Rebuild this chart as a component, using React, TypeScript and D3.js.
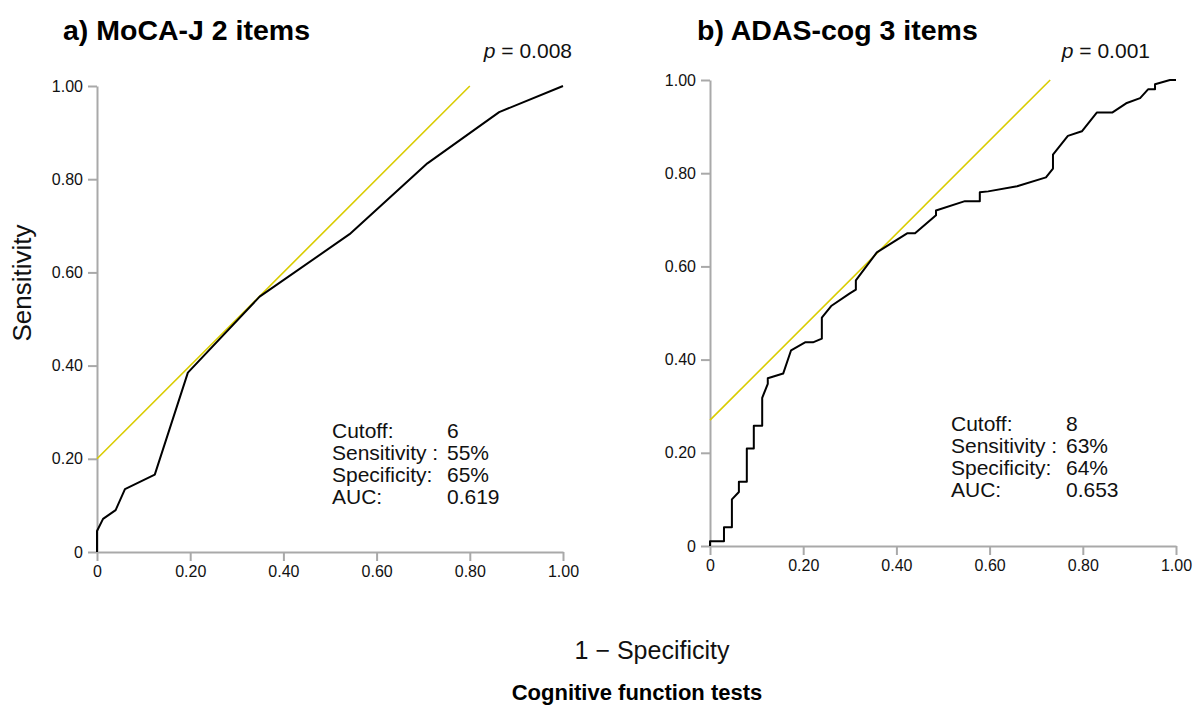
import React, { useEffect, useRef } from 'react';
import * as d3 from 'd3';

// ROC curve a) MoCA-J 2 items
const mocaFpr = [0, 0, 0.013, 0.04, 0.06, 0.124, 0.195, 0.349, 0.542, 0.709, 0.863, 1.0];
const mocaTpr = [0, 0.045, 0.071, 0.09, 0.135, 0.166, 0.385, 0.548, 0.682, 0.834, 0.944, 1.0];

// ROC curve b) ADAS-cog 3 items
const adasFpr = [0, 0, 0.03, 0.03, 0.047, 0.047, 0.062, 0.062, 0.079, 0.079, 0.094, 0.094, 0.112, 0.112, 0.124, 0.124,
  0.157, 0.174, 0.204, 0.221, 0.24, 0.24, 0.26, 0.30, 0.313, 0.313, 0.358, 0.423, 0.44, 0.485, 0.485, 0.547, 0.579, 0.579,
  0.597, 0.659, 0.721, 0.736, 0.736, 0.768, 0.798, 0.830, 0.863, 0.893, 0.923, 0.94, 0.955, 0.955, 0.987, 1.0];
const adasTpr = [0, 0.01, 0.01, 0.04, 0.04, 0.10, 0.116, 0.138, 0.138, 0.209, 0.209, 0.258, 0.258, 0.318, 0.348, 0.36,
  0.37, 0.42, 0.437, 0.437, 0.445, 0.49, 0.515, 0.542, 0.55, 0.57, 0.63, 0.671, 0.671, 0.71, 0.72, 0.74, 0.74, 0.759,
  0.761, 0.772, 0.791, 0.81, 0.84, 0.88, 0.89, 0.93, 0.93, 0.95, 0.961, 0.98, 0.98, 0.991, 1.0, 1.0];

// tangent (Youden) lines: [x, y] end points
const mocaTangent = [[0, 0.2], [0.8, 1.0]];
const adasTangent = [[0, 0.27], [0.73, 1.0]];

const tickValues = [0, 0.2, 0.4, 0.6, 0.8, 1.0];
const statLabels = ['Cutoff:', 'Sensitivity :', 'Specificity:', 'AUC:'];
const mocaStats = ['6', '55%', '65%', '0.619'];
const adasStats = ['8', '63%', '64%', '0.653'];

const FONT = '"Liberation Sans", Arial, Helvetica, sans-serif';
const AXIS_GREY = '#a9a9a9';
const YELLOW = '#d9cc00';

const tickFmt = (d: number) => (d === 0 ? '0' : d3.format('.2f')(d));

const Panel = ({ left, top, size, fpr, tpr, tangent, title, pText, stats, titleX, pX, statX, statY }: any) => {
  const xRef = useRef<SVGGElement>(null);
  const yRef = useRef<SVGGElement>(null);

  const xScale = d3.scaleLinear().domain([0, 1]).range([0, size]);
  const yScale = d3.scaleLinear().domain([0, 1]).range([size, 0]);

  const points = fpr.map((f: number, i: number) => [f, tpr[i]]);
  const line = d3.line<number[]>()
    .x(d => xScale(d[0]))
    .y(d => yScale(d[1]));

  useEffect(() => {
    const style = (g: any) => {
      g.select('.domain').attr('stroke', AXIS_GREY).attr('stroke-width', 2);
      g.selectAll('.tick line').attr('stroke', AXIS_GREY).attr('stroke-width', 2);
      g.selectAll('.tick text').attr('fill', '#111').style('font-size', '16px').style('font-family', FONT);
    };
    d3.select(xRef.current)
      .call(d3.axisBottom(xScale).tickValues(tickValues).tickFormat(tickFmt as any).tickSizeInner(9).tickSizeOuter(0).tickPadding(5) as any)
      .call(style);
    d3.select(yRef.current)
      .call(d3.axisLeft(yScale).tickValues(tickValues).tickFormat(tickFmt as any).tickSizeInner(9).tickSizeOuter(0).tickPadding(5) as any)
      .call(style);
  }, []);

  return (
    <g>
      <text x={titleX} y={40} fontFamily={FONT} fontWeight="bold" fontSize={28.5} fill="#000">{title}</text>
      <text x={pX} y={58} textAnchor="end" fontFamily={FONT} fontSize={21} fill="#111">
        <tspan fontStyle="italic">p</tspan> = {pText}
      </text>
      <g transform={`translate(${left},${top})`}>
        <g ref={xRef} transform={`translate(0,${size})`} />
        <g ref={yRef} />
        <path d={line(tangent) || ''} fill="none" stroke={YELLOW} strokeWidth={1.6} />
        <path d={line(points) || ''} fill="none" stroke="#000" strokeWidth={2} strokeLinejoin="round" />
      </g>
      {statLabels.map((s, i) => (
        <text key={s} x={statX} y={statY + i * 22} fontFamily={FONT} fontSize={21} fill="#111">{s}</text>
      ))}
      {stats.map((s: string, i: number) => (
        <text key={i} x={statX + 115} y={statY + i * 22} fontFamily={FONT} fontSize={21} fill="#111">{s}</text>
      ))}
    </g>
  );
};

export default function App() {
  return (
    <svg width={1193} height={707} style={{ position: 'absolute', left: 0, top: 0, background: '#fff' }}>
      <Panel left={97} top={86} size={466} fpr={mocaFpr} tpr={mocaTpr} tangent={mocaTangent}
        title="a) MoCA-J 2 items" pText="0.008" stats={mocaStats}
        titleX={63} pX={572} statX={332} statY={438} />
      <Panel left={710} top={80} size={466} fpr={adasFpr} tpr={adasTpr} tangent={adasTangent}
        title="b) ADAS-cog 3 items" pText="0.001" stats={adasStats}
        titleX={697} pX={1150} statX={951} statY={431} />
      <text transform="translate(31,283) rotate(-90)" textAnchor="middle" fontFamily={FONT} fontSize={26} fill="#111">Sensitivity</text>
      <text x={652} y={659} textAnchor="middle" fontFamily={FONT} fontSize={25} fill="#111">1 − Specificity</text>
      <text x={637} y={700} textAnchor="middle" fontFamily={FONT} fontWeight="bold" fontSize={22} fill="#000">Cognitive function tests</text>
    </svg>
  );
}
